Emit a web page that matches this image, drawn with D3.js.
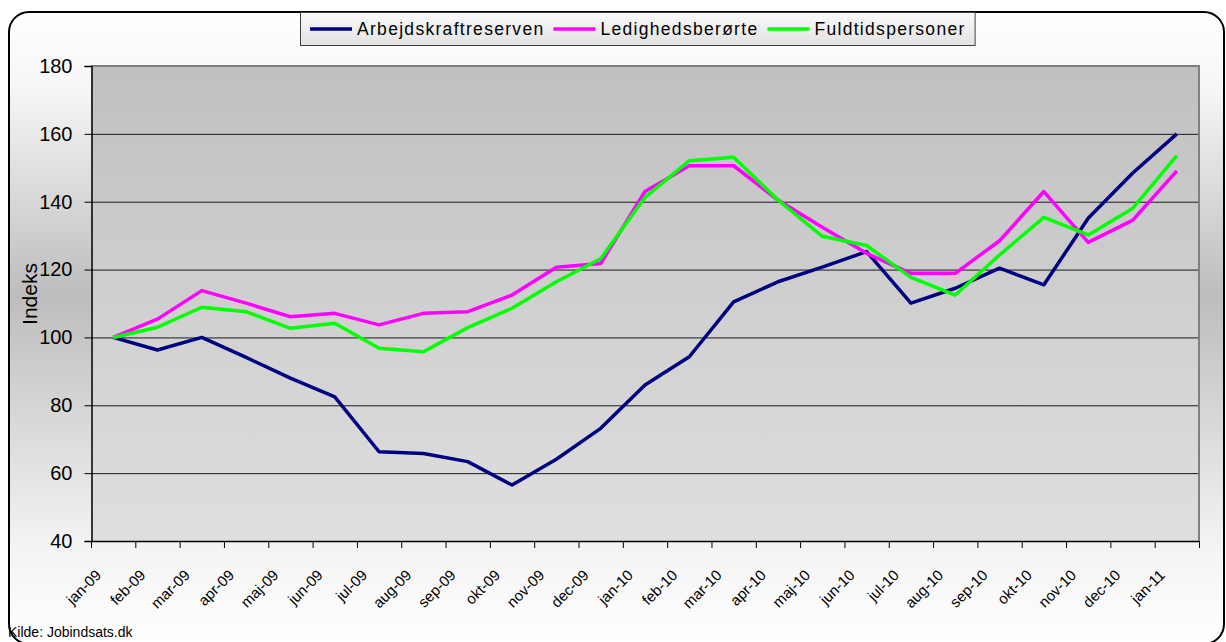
<!DOCTYPE html>
<html>
<head>
<meta charset="utf-8">
<script src="https://cdn.jsdelivr.net/npm/d3@7"></script>
<style>
  body { margin: 0; background: #fff; }
  svg { display: block; font-family: "Liberation Sans", Arial, sans-serif; }
</style>
</head>
<body>
<svg id="chart" width="1226" height="642"></svg>
<script>
// months on the x axis
var months = ["jan-09", "feb-09", "mar-09", "apr-09", "maj-09", "jun-09", "jul-09", "aug-09", "sep-09", "okt-09", "nov-09", "dec-09",
              "jan-10", "feb-10", "mar-10", "apr-10", "maj-10", "jun-10", "jul-10", "aug-10", "sep-10", "okt-10", "nov-10", "dec-10", "jan-11"];

// index values
var arbejdskraft = [100, 96.3, 100, 94.1, 88, 82.5, 66.3, 65.8, 63.4, 56.5, 64.1, 73.2,
                    86, 94.3, 110.5, 116.4, 120.7, 125.3, 110.1, 114.5, 120.4, 115.5, 135.1, 148.4, 160];
var ledighed = [100, 105.4, 113.8, 110.1, 106.1, 107.1, 103.7, 107.1, 107.6, 112.5, 120.7, 121.8,
                143, 150.6, 150.6, 140.5, 132.5, 124.8, 118.9, 118.9, 128.5, 143, 128, 134.5, 149.1];
var fuldtid = [100, 103, 108.9, 107.6, 102.7, 104.2, 96.8, 95.8, 102.9, 108.6, 116.4, 123.2,
               141.3, 152.1, 153.1, 140.5, 129.8, 127.1, 117.7, 112.5, 124.3, 135.4, 130.2, 138, 153.6];

var seriesNames = ["Arbejdskraftreserven", "Ledighedsberørte", "Fuldtidspersoner"];
var seriesColors = ["#000080", "#ff00ff", "#00ff00"];
var yTicks = [40, 60, 80, 100, 120, 140, 160, 180];

var svg = d3.select("#chart");
var defs = svg.append("defs");

//background gradients
var bg = defs.append("linearGradient").attr("id", "bgGrad")
  .attr("x1", 0).attr("y1", 0).attr("x2", 0).attr("y2", 1);
bg.append("stop").attr("offset", "0%").attr("stop-color", "#ffffff");
bg.append("stop").attr("offset", "12%").attr("stop-color", "#f6f6f6");
bg.append("stop").attr("offset", "45%").attr("stop-color", "#bdbdbd");
bg.append("stop").attr("offset", "85%").attr("stop-color", "#f4f4f4");
bg.append("stop").attr("offset", "100%").attr("stop-color", "#ffffff");

var pg = defs.append("linearGradient").attr("id", "plotGrad")
  .attr("x1", 0).attr("y1", 0).attr("x2", 0).attr("y2", 1);
pg.append("stop").attr("offset", "0%").attr("stop-color", "#c0c0c0");
pg.append("stop").attr("offset", "100%").attr("stop-color", "#dfdfdf");

var lg = defs.append("linearGradient").attr("id", "legGrad")
  .attr("x1", 0).attr("y1", 0).attr("x2", 0).attr("y2", 1);
lg.append("stop").attr("offset", "0%").attr("stop-color", "#fafafa");
lg.append("stop").attr("offset", "100%").attr("stop-color", "#e2e2e2");

//outer frame
svg.append("rect")
  .attr("x", 9).attr("y", 12)
  .attr("width", 1215).attr("height", 632)
  .attr("rx", 20).attr("ry", 20)
  .attr("fill", "url(#bgGrad)")
  .attr("stroke", "#000")
  .attr("stroke-width", 2);

//scales
var xScale = d3.scaleBand()
  .domain(months)
  .range([91, 1199])
  .padding(0);

var yScale = d3.scaleLinear()
  .domain([40, 180])
  .range([541, 66]);

//plot area
svg.append("rect")
  .attr("x", xScale.range()[0]).attr("y", yScale(180))
  .attr("width", xScale.range()[1] - xScale.range()[0])
  .attr("height", yScale(40) - yScale(180))
  .attr("fill", "url(#plotGrad)");

//gridlines
svg.append("g")
  .selectAll("line")
  .data(yTicks.filter(d => d > 40 && d < 180))
  .enter().append("line")
  .attr("x1", xScale.range()[0])
  .attr("x2", xScale.range()[1])
  .attr("y1", d => yScale(d) + 0.5)
  .attr("y2", d => yScale(d) + 0.5)
  .attr("stroke", "#1a1a1a")
  .attr("stroke-width", 1);

//gray border top and right
svg.append("path")
  .attr("d", "M" + xScale.range()[0] + "," + yScale(180) + "H" + xScale.range()[1] + "V" + yScale(40))
  .attr("fill", "none")
  .attr("stroke", "#808080")
  .attr("stroke-width", 2);

//y axis
var yAxis = svg.append("g")
  .attr("transform", "translate(91.5,0)")
  .call(d3.axisLeft(yScale).tickValues(yTicks).tickSize(7).tickPadding(12));
yAxis.select(".domain").attr("stroke", "#000").attr("stroke-width", 1.5);
yAxis.selectAll(".tick line").attr("stroke", "#000");
yAxis.selectAll("text")
  .attr("font-size", "20px")
  .attr("fill", "#000")
  .style("font-family", "'Liberation Sans', Arial, sans-serif");

//x axis line and ticks between categories
svg.append("line")
  .attr("x1", xScale.range()[0]).attr("x2", xScale.range()[1])
  .attr("y1", yScale(40) + 0.5).attr("y2", yScale(40) + 0.5)
  .attr("stroke", "#000").attr("stroke-width", 1.5);

var tickPos = months.map(m => xScale(m)).concat([xScale.range()[1]]);
svg.append("g")
  .selectAll("line")
  .data(tickPos)
  .enter().append("line")
  .attr("x1", d => d + 0.5).attr("x2", d => d + 0.5)
  .attr("y1", yScale(40)).attr("y2", yScale(40) + 7)
  .attr("stroke", "#000").attr("stroke-width", 1);

//x labels, rotated
svg.append("g")
  .selectAll("text")
  .data(months)
  .enter().append("text")
  .attr("transform", d => "translate(" + (xScale(d) + xScale.bandwidth() / 2 - 11) + ",576) rotate(-45)")
  .attr("text-anchor", "end")
  .attr("font-size", "15px")
  .attr("fill", "#000")
  .text(d => d);

//y label
svg.append("text")
  .attr("transform", "translate(37,294) rotate(-90)")
  .attr("text-anchor", "middle")
  .attr("font-size", "21px")
  .text("Indeks");

//lines
var line = d3.line()
  .x((d, i) => xScale(months[i]) + xScale.bandwidth() / 2)
  .y(d => yScale(d));

var allSeries = [arbejdskraft, ledighed, fuldtid];
svg.append("g")
  .selectAll("path")
  .data(allSeries)
  .enter().append("path")
  .attr("d", d => line(d))
  .attr("fill", "none")
  .attr("stroke", (d, i) => seriesColors[i])
  .attr("stroke-width", 3.5)
  .attr("stroke-linejoin", "round");

//legend
var legend = svg.append("g");
var legBox = legend.append("rect")
  .attr("x", 300.5).attr("y", 12.5)
  .attr("height", 33)
  .attr("fill", "url(#legGrad)")
  .attr("stroke", "#404040")
  .attr("stroke-width", 1);

var lx = 310;
seriesNames.forEach(function(name, i) {
  legend.append("line")
    .attr("x1", lx).attr("x2", lx + 42)
    .attr("y1", 29).attr("y2", 29)
    .attr("stroke", seriesColors[i])
    .attr("stroke-width", 3.5);
  var t = legend.append("text")
    .attr("x", lx + 47).attr("y", 35)
    .attr("font-size", "17.5px")
    .style("letter-spacing", "1.3px")
    .text(name);
  lx = lx + 47 + t.node().getComputedTextLength() + 9;
});
legBox.attr("width", lx - 300);

//source
svg.append("text")
  .attr("x", 8).attr("y", 637)
  .attr("font-size", "14px")
  .text("Kilde: Jobindsats.dk");
</script>
</body>
</html>
